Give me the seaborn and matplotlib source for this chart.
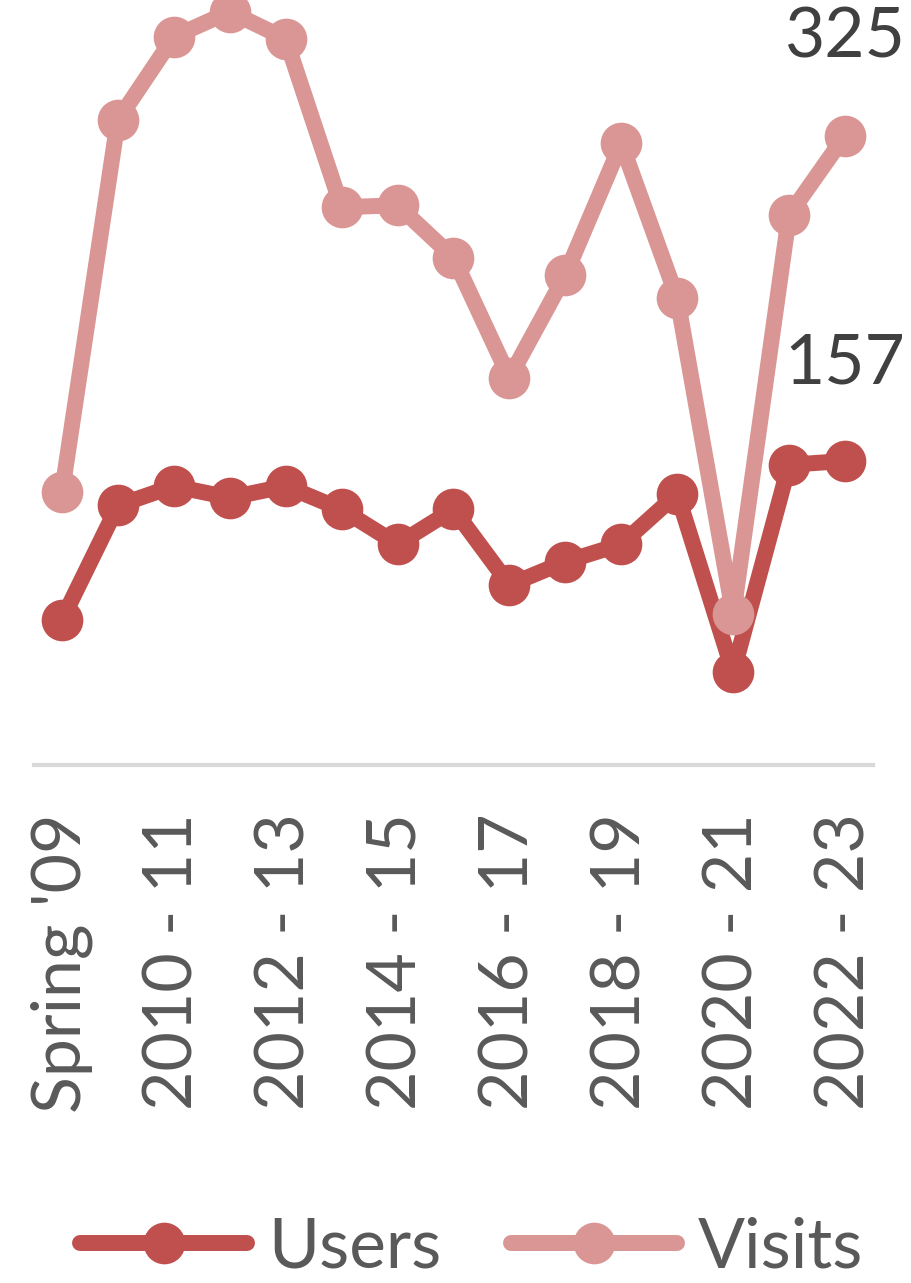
import matplotlib
matplotlib.use("Agg")
import matplotlib.pyplot as plt
import seaborn as sns
import pandas as pd

periods = ["Spring '09", "2009 - 10", "2010 - 11", "2011 - 12", "2012 - 13",
           "2013 - 14", "2014 - 15", "2015 - 16", "2016 - 17", "2017 - 18",
           "2018 - 19", "2019 - 20", "2020 - 21", "2021 - 22", "2022 - 23"]
users = [75, 134, 144, 138, 144, 132, 114, 132, 93, 105, 114, 140, 48, 155, 157]
visits = [141, 333, 376, 389, 375, 288, 289, 262, 200, 253, 321, 241, 78, 284, 325]

USERS_C = "#C0504D"
VISITS_C = "#D99694"
TEXT_C = "#595959"

sns.set_theme(style="white")
plt.rcParams["font.family"] = ["Lato", "DejaVu Sans"]

pos = list(range(len(periods)))
df = pd.DataFrame({"pos": pos, "period": periods, "Users": users, "Visits": visits})

fig = plt.figure(figsize=(9.12, 12.83), dpi=100)
ax = fig.add_axes([34 / 912, 1 - 765 / 1283, (873 - 34) / 912, 765 / 1283])

line_kw = dict(marker="o", markersize=30, linewidth=11.5, markeredgewidth=0,
               sort=False, clip_on=False)
sns.lineplot(data=df, x="pos", y="Users", color=USERS_C, label="Users", ax=ax, **line_kw)
sns.lineplot(data=df, x="pos", y="Visits", color=VISITS_C, label="Visits", ax=ax, **line_kw)

ax.set_xlim(-0.5, len(periods) - 0.5)
ax.set_ylim(0, 395)
ax.set_xlabel("")
ax.set_ylabel("")
ax.set_yticks([])
ax.set_xticks(pos)
ax.set_xticklabels([p if i % 2 == 0 else "" for i, p in enumerate(periods)],
                   rotation=90, fontsize=49, color=TEXT_C)
ax.tick_params(axis="x", length=0, pad=35)
for s in ["top", "left", "right"]:
    ax.spines[s].set_visible(False)
ax.spines["bottom"].set_color("#D9D9D9")
ax.spines["bottom"].set_linewidth(3)

# data labels for the last values
for series in (users, visits):
    ax.annotate(str(series[-1]), xy=(pos[-1], series[-1]), xytext=(0, 70),
                textcoords="offset points", ha="center", va="center",
                fontsize=50, color="#404040", annotation_clip=False)

ax.get_legend().remove()
handles, labels = ax.get_legend_handles_labels()
fig.legend(handles, labels, loc="center", bbox_to_anchor=(472 / 912, 35 / 1283),
           ncol=2, frameon=False, fontsize=50, handlelength=2.4,
           handletextpad=0.3, columnspacing=1.0, labelcolor=TEXT_C,
           borderpad=0, borderaxespad=0)

fig.savefig("out.png", dpi=100)
